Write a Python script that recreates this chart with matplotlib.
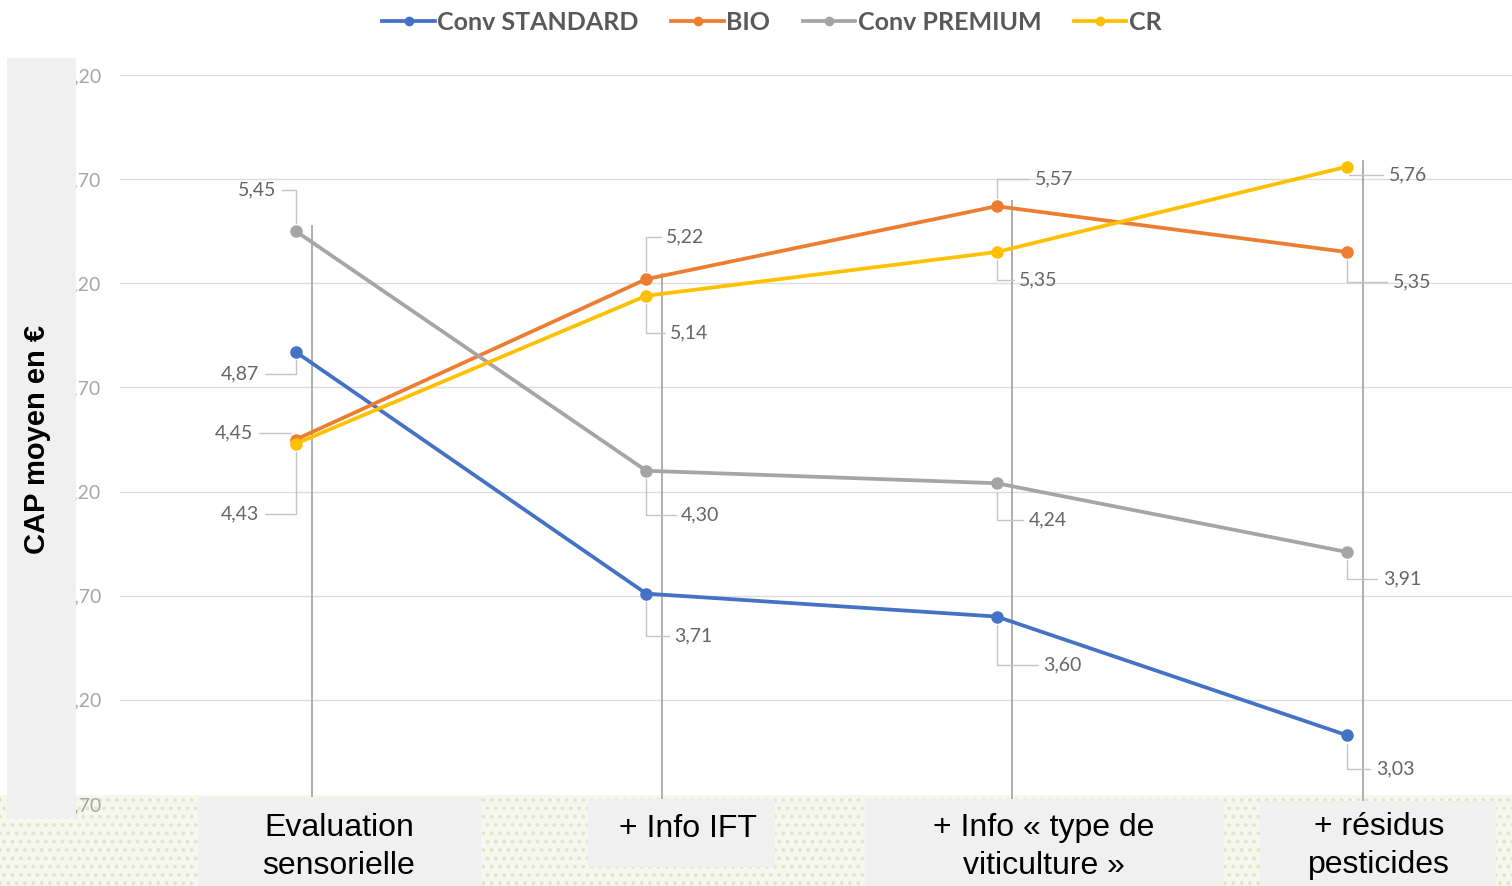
import matplotlib.pyplot as plt
from matplotlib.patches import Rectangle
from matplotlib.ticker import FuncFormatter

plt.rcParams['hatch.linewidth'] = 1.6

categories = ["Evaluation\nsensorielle", "+ Info IFT", "+ Info « type de\nviticulture »", "+ résidus\npesticides"]
series_names = ["Conv STANDARD", "BIO", "Conv PREMIUM", "CR"]
conv_standard = [4.87, 3.71, 3.60, 3.03]
bio = [4.45, 5.22, 5.57, 5.35]
conv_premium = [5.45, 4.30, 4.24, 3.91]
cr = [4.43, 5.14, 5.35, 5.76]
yticks = [2.70, 3.20, 3.70, 4.20, 4.70, 5.20, 5.70, 6.20]

colors = ["#4472C4", "#ED7D31", "#A5A5A5", "#FFC000"]
# label offsets in pixels (dx, dy downward) from each point
offsets = [
    [(-56, 22), (47, 42), (66, 48), (48, 34)],
    [(-62, -7), (39, -42), (57, -27), (65, 30)],
    [(-39, -41), (54, 44), (51, 37), (55, 27)],
    [(-56, 70), (43, 37), (42, 28), (61, 8)],
]

W, H = 1512, 886
fig = plt.figure(figsize=(W / 100, H / 100), dpi=100)
fig.patch.set_facecolor("white")
ax = fig.add_axes([120 / W, 1 - 804 / H, (W - 120) / W, (804 - 75) / H])
ax.set_facecolor("none")

x = list(range(len(categories)))
all_series = [conv_standard, bio, conv_premium, cr]

for i in x:
    top = max(s[i] for s in all_series) + 0.03
    ax.vlines(i + 0.045, 2.7, top, color="#999999", lw=1.1, zorder=1, clip_on=False)

for name, vals, col, offs in zip(series_names, all_series, colors, offsets):
    ax.plot(x, vals, color=col, lw=2.7, marker="o", markersize=8, label=name, zorder=3)
    for i, v in enumerate(vals):
        dx, dy = offs[i]
        ax.annotate(f"{v:.2f}".replace(".", ","), xy=(i, v), xytext=(dx, -dy),
                    textcoords="offset pixels", ha="center", va="center",
                    fontsize=14, family="Lato", color="#666666", zorder=4,
                    arrowprops=dict(arrowstyle="-", color="#c4c4c4", lw=1,
                                    shrinkA=2, shrinkB=6,
                                    connectionstyle="angle,angleA=0,angleB=90",
                                    relpos=(1, 0.5) if dx < 0 else (0, 0.5)))

ax.set_xlim(-0.502, 3.471)
ax.set_ylim(2.7, 6.2)
ax.set_yticks(yticks)
ax.yaxis.set_major_formatter(FuncFormatter(lambda v, p: f"{v:.2f}".replace(".", ",")))
ax.set_xticks([])
ax.tick_params(axis="y", length=0, pad=13.5, labelsize=14, labelcolor="#a6a6a6")
for lab in ax.get_yticklabels():
    lab.set_family("Lato")
ax.grid(axis="y", color="#dcdcdc", lw=1)
ax.set_axisbelow(True)
for s in ax.spines.values():
    s.set_visible(False)

# textured band at the bottom
fig.patches.append(Rectangle((0, 0), 1, 91 / H, transform=fig.transFigure,
                             facecolor="#f6f7ee", edgecolor="#e2e5cc", hatch="..",
                             lw=0, zorder=-1))

# grey overlay boxes
boxes = [(7, 58, 76, 818), (198, 797, 481, 886), (588, 799, 775, 867),
         (865, 799, 1224, 886), (1260, 801, 1496, 886)]
for x0, y0, x1, y1 in boxes:
    fig.patches.append(Rectangle((x0 / W, 1 - y1 / H), (x1 - x0) / W, (y1 - y0) / H,
                                 transform=fig.transFigure, facecolor="#f0f0f0",
                                 edgecolor="none", zorder=2))

fig.text(37 / W, 1 - 440 / H, "CAP moyen en €", rotation=90, ha="center", va="center",
         fontsize=21, fontweight="bold", family="Liberation Sans", color="black", zorder=5)

label_pos = [(339, 847), (688, 829), (1044, 847), (1379, 846)]
for cat, (px, py) in zip(categories, label_pos):
    fig.text(px / W, 1 - py / H, cat, ha="center", va="center", multialignment="center",
             fontsize=23, family="Liberation Sans", color="black", linespacing=1.38, zorder=5)

leg = fig.legend(loc="center", bbox_to_anchor=(772 / W, 1 - 22 / H), ncol=4, frameon=False,
                 handlelength=2.1, handletextpad=0.1, columnspacing=1.3,
                 prop={"family": "Lato", "weight": "bold", "size": 18})
for t in leg.get_texts():
    t.set_color("#595959")
for h in leg.legend_handles:
    h.set_markersize(6)
    h.set_linewidth(2.7)

fig.savefig("out.png", dpi=100)
